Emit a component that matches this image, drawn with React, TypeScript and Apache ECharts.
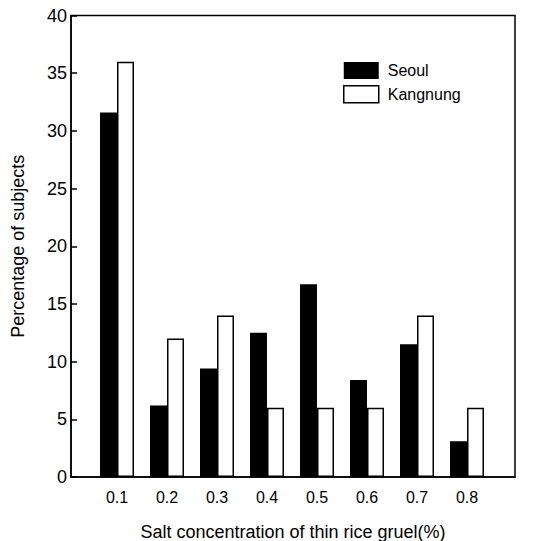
import React, { useEffect, useRef } from "react";
import * as echarts from "echarts";

const categories = [0.1, 0.2, 0.3, 0.4, 0.5, 0.6, 0.7, 0.8];
const seoul = [31.6, 6.2, 9.4, 12.5, 16.7, 8.4, 11.5, 3.1];
const kangnung = [36, 12, 14, 6, 6, 6, 14, 6];
const yTicks = [0, 5, 10, 15, 20, 25, 30, 35, 40];

const FONT = "'Liberation Sans', Arial, sans-serif";

export default function App() {
  const ref = useRef<HTMLDivElement>(null);
  useEffect(() => {
    const chart = echarts.init(ref.current!, null, { renderer: "svg" });
    chart.setOption({
      animation: false,
      backgroundColor: "#fff",
      textStyle: { fontFamily: FONT, color: "#000" },
      grid: {
        left: 71,
        right: 29,
        top: 15.5,
        bottom: 64,
        outerBoundsMode: "none",
        containLabel: false,
        show: true,
        borderColor: "#000",
        borderWidth: 1.5,
        backgroundColor: "transparent",
      },
      legend: {
        left: 338,
        top: 57,
        orient: "vertical",
        icon: "rect",
        itemWidth: 35,
        itemHeight: 17,
        itemGap: 6,
        textStyle: { fontFamily: FONT, fontSize: 16, color: "#000", padding: [0, 0, 0, 4] },
        data: [
          { name: "Seoul", itemStyle: { color: "#000", borderColor: "#000" } },
          { name: "Kangnung", itemStyle: { color: "#fff", borderColor: "#000", borderWidth: 1.5 } },
        ],
      },
      xAxis: {
        type: "value",
        min: 0.008,
        max: 0.896,
        name: "Salt concentration of thin rice gruel(%)",
        nameLocation: "middle",
        nameGap: 46,
        nameTextStyle: { fontFamily: FONT, fontSize: 18, color: "#000" },
        axisLine: { show: true, lineStyle: { color: "#000", width: 1.5 } },
        axisTick: { show: false },
        splitLine: { show: false },
        axisLabel: {
          customValues: categories,
          formatter: (v: number) => v.toFixed(1),
          fontFamily: FONT,
          fontSize: 16,
          color: "#000",
          margin: 12,
        },
      },
      yAxis: {
        type: "value",
        min: 0,
        max: 40,
        interval: 5,
        name: "Percentage of subjects",
        nameLocation: "middle",
        nameGap: 44,
        nameTextStyle: { fontFamily: FONT, fontSize: 18, color: "#000" },
        axisLine: { show: true, lineStyle: { color: "#000", width: 1.5 } },
        axisTick: { show: true, inside: true, length: 6, lineStyle: { color: "#000", width: 1.5 } },
        splitLine: { show: false },
        axisLabel: {
          customValues: yTicks,
          fontFamily: FONT,
          fontSize: 18,
          color: "#000",
          margin: 4,
        },
      },
      series: [
        {
          name: "Seoul",
          type: "bar",
          barWidth: 17,
          barGap: "0%",
          itemStyle: { color: "#000", borderColor: "#000", borderWidth: 0 },
          data: categories.map((c, i) => [c, seoul[i]]),
        },
        {
          name: "Kangnung",
          type: "bar",
          barWidth: 17,
          barGap: "0%",
          itemStyle: { color: "#fff", borderColor: "#000", borderWidth: 1.5 },
          data: categories.map((c, i) => [c, kangnung[i]]),
        },
      ],
    });
    return () => chart.dispose();
  }, []);
  return (
    <div
      ref={ref}
      style={{ position: "fixed", left: 0, top: 0, width: 544, height: 541 }}
    />
  );
}
